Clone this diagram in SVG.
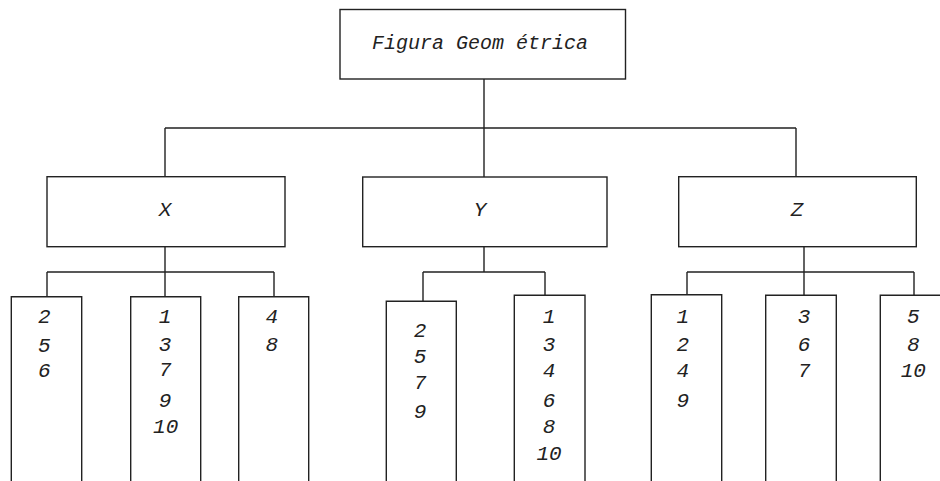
<svg xmlns="http://www.w3.org/2000/svg" width="940" height="481" viewBox="0 0 940 481">
<style>
.box{fill:#fff;stroke:#222;stroke-width:1.4}
.ln{fill:none;stroke:#222;stroke-width:1.4}
.t{font-family:"Liberation Mono","Courier New",monospace;font-style:italic;font-size:20px;fill:#222;text-anchor:middle}
.d{font-family:"Liberation Mono","Courier New",monospace;font-style:italic;font-size:21px;fill:#222;text-anchor:middle}
</style>
<rect width="940" height="481" fill="#fff"/>
<g id="connectors">
<path class="ln" d="M484 79V177M165 128H796M165 128V177M796 128V177"/>
<path class="ln" d="M165 247V297M47 272H274M47 272V297M274 272V297"/>
<path class="ln" d="M484 247V272M423 272H545M423 272V301M545 272V295"/>
<path class="ln" d="M804 247V295M687 272H914M687 272V295M914 272V295"/>
</g>
<g id="root"><rect class="box" x="340" y="9.5" width="285.5" height="69.5"/><text class="t" x="480" y="49">Figura Geom étrica</text></g>
<g id="X"><rect class="box" x="47" y="176.7" width="238" height="70"/><text class="d" x="165" y="216">X</text></g>
<g id="Y"><rect class="box" x="362.7" y="177" width="244.3" height="69.7"/><text class="d" x="480" y="216">Y</text></g>
<g id="Z"><rect class="box" x="678.7" y="176.7" width="237.6" height="70"/><text class="d" x="797" y="216">Z</text></g>
<g id="X1"><path class="ln" d="M11.3 490V296.7H81.7V490"/><text class="d" x="44.3"><tspan x="44.3" y="323.3">2</tspan><tspan x="44.3" y="351.5">5</tspan><tspan x="44.3" y="376.5">6</tspan></text></g>
<g id="X2"><path class="ln" d="M130.7 490V296.7H200.7V490"/><text class="d" x="165"><tspan x="165" y="323.3">1</tspan><tspan x="165" y="351.3">3</tspan><tspan x="165" y="376">7</tspan><tspan x="165" y="407.3">9</tspan><tspan x="165.7" y="433.3">10</tspan></text></g>
<g id="X3"><path class="ln" d="M238.7 490V296.7H308.7V490"/><text class="d" x="271.7"><tspan x="271.7" y="323.3">4</tspan><tspan x="271.7" y="351">8</tspan></text></g>
<g id="Y1"><path class="ln" d="M386.3 490V301.3H456.3V490"/><text class="d" x="420"><tspan x="420" y="336.7">2</tspan><tspan x="420" y="362.7">5</tspan><tspan x="420" y="389.3">7</tspan><tspan x="420" y="418.3">9</tspan></text></g>
<g id="Y2"><path class="ln" d="M514.3 490V295.3H585V490"/><text class="d" x="549"><tspan x="549" y="323.3">1</tspan><tspan x="549" y="351">3</tspan><tspan x="549" y="376.7">4</tspan><tspan x="549" y="407.3">6</tspan><tspan x="549" y="433.3">8</tspan><tspan x="549" y="460">10</tspan></text></g>
<g id="Z1"><path class="ln" d="M651.3 490V294.7H721.7V490"/><text class="d" x="682.7"><tspan x="682.7" y="323.3">1</tspan><tspan x="682.7" y="351">2</tspan><tspan x="682.7" y="376.7">4</tspan><tspan x="682.7" y="407.3">9</tspan></text></g>
<g id="Z2"><path class="ln" d="M765.7 490V295.3H836.3V490"/><text class="d" x="804"><tspan x="804" y="323.3">3</tspan><tspan x="804" y="351">6</tspan><tspan x="804" y="376.7">7</tspan></text></g>
<g id="Z3"><path class="ln" d="M880.3 490V295.3H950"/><text class="d" x="913.3"><tspan x="913.3" y="323.3">5</tspan><tspan x="913.3" y="351">8</tspan><tspan x="913.3" y="376.7">10</tspan></text></g>
</svg>
